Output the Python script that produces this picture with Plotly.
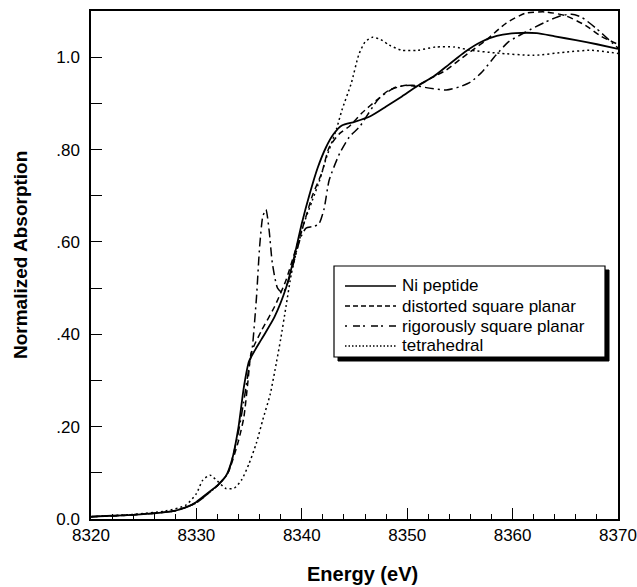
import plotly.graph_objects as go

# ---- data ----
energy_ni = [8320, 8322, 8324, 8326, 8328, 8329, 8330, 8331, 8332, 8332.8, 8333.4, 8334, 8334.5, 8335,
             8336.2, 8337.4, 8338.5, 8339.2, 8340, 8340.7, 8341.5, 8342.3, 8343, 8343.8, 8345, 8346.5,
             8348, 8349.5, 8351, 8352.5, 8354, 8355.5, 8357, 8358.5, 8360.3, 8362.3, 8364, 8366, 8368, 8370]
abs_ni = [0.005, 0.007, 0.009, 0.012, 0.018, 0.025, 0.037, 0.055, 0.073, 0.093, 0.13, 0.2, 0.285, 0.342,
          0.39, 0.437, 0.5, 0.56, 0.64, 0.7, 0.76, 0.805, 0.833, 0.852, 0.86, 0.872,
          0.893, 0.915, 0.938, 0.958, 0.985, 1.012, 1.033, 1.046, 1.052, 1.052, 1.045, 1.037, 1.028, 1.018]

energy_dsp = [8320, 8324, 8328, 8330, 8331, 8332, 8333, 8334, 8334.5, 8334.9, 8335.2, 8336.2, 8337.4, 8338.5,
              8339.3, 8340.2, 8341, 8341.9, 8342.6, 8343.6, 8344.5, 8345.7, 8347.1, 8348.3, 8349.9, 8350.8,
              8352.1, 8353.7, 8355, 8356, 8357.5, 8359.4, 8361.2, 8363.1, 8365, 8366.9, 8368.4, 8370]
abs_dsp = [0.005, 0.009, 0.018, 0.035, 0.053, 0.072, 0.1, 0.17, 0.22, 0.3, 0.36, 0.409, 0.459, 0.517,
           0.575, 0.64, 0.7, 0.75, 0.805, 0.835, 0.85, 0.879, 0.907, 0.929, 0.939, 0.937,
           0.953, 0.972, 0.995, 1.012, 1.037, 1.074, 1.095, 1.098, 1.09, 1.069, 1.045, 1.028]

energy_rsp = [8320, 8324, 8328, 8330, 8331, 8332, 8333, 8334, 8334.6, 8335, 8335.3, 8335.7, 8336, 8336.3,
              8336.6, 8336.9, 8337.2, 8337.7, 8338.2, 8338.8, 8339.4, 8339.9, 8340.4, 8341, 8341.6, 8342.1,
              8342.6, 8343.6, 8344.5, 8345.5, 8347.3, 8348.9, 8350.5, 8352.1, 8353.7, 8355, 8356, 8357.1,
              8358.4, 8359.6, 8361.2, 8363.1, 8364.6, 8365.6, 8366.5, 8367.9, 8369.4, 8370]
abs_rsp = [0.005, 0.009, 0.018, 0.035, 0.053, 0.072, 0.1, 0.19, 0.27, 0.33, 0.37, 0.48, 0.59, 0.655,
           0.67, 0.625, 0.555, 0.5, 0.49, 0.52, 0.57, 0.61, 0.63, 0.633, 0.638, 0.67,
           0.734, 0.792, 0.827, 0.85, 0.91, 0.935, 0.939, 0.933, 0.929, 0.936, 0.946, 0.968,
           1.004, 1.033, 1.054, 1.076, 1.09, 1.093, 1.087, 1.063, 1.032, 1.02]

energy_td = [8320, 8324, 8327, 8329, 8330, 8330.6, 8331.3, 8332, 8332.8, 8333.6, 8334.3, 8335, 8335.7, 8336.3,
             8337, 8337.6, 8338, 8338.5, 8339, 8339.5, 8340.2, 8341, 8341.7, 8342.3, 8343.3, 8343.8, 8344.7,
             8345.4, 8346, 8346.7, 8347.5, 8348.3, 8349.5, 8351, 8352.7, 8354.5, 8356, 8358.5, 8362, 8365,
             8367.5, 8370]
abs_td = [0.005, 0.01, 0.017, 0.03, 0.055, 0.084, 0.095, 0.082, 0.066, 0.067, 0.085, 0.12, 0.165, 0.215,
          0.27, 0.34, 0.39, 0.46, 0.53, 0.58, 0.64, 0.69, 0.734, 0.78, 0.845, 0.885, 0.944,
          1.005, 1.033, 1.043, 1.038, 1.026, 1.015, 1.015, 1.022, 1.022, 1.015, 1.009, 1.004, 1.011,
          1.015, 1.008]

series_names = ["Ni peptide", "distorted square planar", "rigorously square planar", "tetrahedral"]

x_tickvals = [8320, 8330, 8340, 8350, 8360, 8370]
y_tickvals = [0.0, 0.2, 0.4, 0.6, 0.8, 1.0]
y_ticktext = ["0.0", ".20", ".40", ".60", ".80", "1.0"]

# ---- figure ----
W, H = 637, 587
L, R, T, B = 91, 618, 11, 519
pw, ph = R - L, B - T


def px(xp):
    return (xp - L) / pw


def py(yp):
    return (B - yp) / ph


FONT = "Liberation Sans, Arial, Helvetica, sans-serif"

fig = go.Figure()
styles = [
    dict(color="black", width=1.8, dash="solid"),
    dict(color="black", width=1.5, dash="6px,4px"),
    dict(color="black", width=1.5, dash="9px,4px,2px,4px"),
    dict(color="black", width=1.5, dash="2px,3px"),
]
legend_dash = ["solid", "5px,3px", "2px,6px,7px,3px", "1.5px,2px"]
data = [(energy_ni, abs_ni), (energy_dsp, abs_dsp), (energy_rsp, abs_rsp), (energy_td, abs_td)]
for (xs, ys), name, st in zip(data, series_names, styles):
    fig.add_trace(go.Scatter(x=xs, y=ys, mode="lines", name=name, showlegend=False,
                             line=dict(shape="spline", smoothing=0.6, **st)))

# legend box with drop shadow
lx0, ly0, lx1, ly1 = 334, 266, 605, 357
fig.add_shape(type="rect", xref="paper", yref="paper",
              x0=px(lx0 + 4), x1=px(lx1 + 4), y0=py(ly1 + 4), y1=py(ly0 + 4),
              fillcolor="black", line=dict(color="black", width=1), layer="above")
fig.add_shape(type="rect", xref="paper", yref="paper",
              x0=px(lx0), x1=px(lx1), y0=py(ly1), y1=py(ly0),
              fillcolor="white", line=dict(color="black", width=1.2), layer="above")

row_y = [286, 306, 326, 346]
for name, yy, dsh in zip(series_names, row_y, legend_dash):
    fig.add_shape(type="line", xref="paper", yref="paper",
                  x0=px(345), x1=px(396), y0=py(yy), y1=py(yy),
                  line=dict(color="black", width=1.3, dash=dsh), layer="above")
    fig.add_annotation(text=name, xref="paper", yref="paper", x=px(400), y=py(yy),
                       xanchor="left", yanchor="middle", showarrow=False,
                       font=dict(family=FONT, size=17, color="black"))

fig.add_annotation(text="<b>Energy (eV)</b>", xref="paper", yref="paper",
                   x=px(362), y=py(574), showarrow=False,
                   font=dict(family=FONT, size=20, color="black"),
                   xanchor="center", yanchor="middle")
fig.add_annotation(text="<b>Normalized Absorption</b>", xref="paper", yref="paper",
                   x=px(20), y=py(255), showarrow=False, textangle=-90,
                   font=dict(family=FONT, size=19, color="black"),
                   xanchor="center", yanchor="middle")

fig.update_layout(
    width=W, height=H,
    margin=dict(l=L, r=W - R, t=T, b=H - B, autoexpand=False),
    paper_bgcolor="white", plot_bgcolor="white",
    font=dict(family=FONT, size=17, color="black"),
    showlegend=False,
)
fig.update_xaxes(range=[8320, 8370], tickvals=x_tickvals, ticks="inside", ticklen=11,
                 tickwidth=1, tickcolor="black", showgrid=False, zeroline=False,
                 showline=True, linecolor="black", linewidth=1.5, mirror=True, automargin=False,
                 minor=dict(dtick=2, ticks="inside", ticklen=5, tickcolor="black", tickwidth=1),
                 tickfont=dict(family=FONT, size=17, color="black"))
fig.update_yaxes(range=[0, 1.1], tickvals=y_tickvals, ticktext=y_ticktext, ticks="inside",
                 ticklen=11, tickwidth=1, tickcolor="black", showgrid=False, zeroline=False,
                 showline=True, linecolor="black", linewidth=1.5, mirror=True, automargin=False,
                 ticklabelstandoff=6,
                 minor=dict(tickvals=[0.1, 0.3, 0.5, 0.7, 0.9], ticks="inside", ticklen=11,
                            tickcolor="black", tickwidth=1),
                 tickfont=dict(family=FONT, size=17, color="black"))

fig.write_html("out.html", config={"displayModeBar": False},
               post_script="document.body.style.margin='0';")
